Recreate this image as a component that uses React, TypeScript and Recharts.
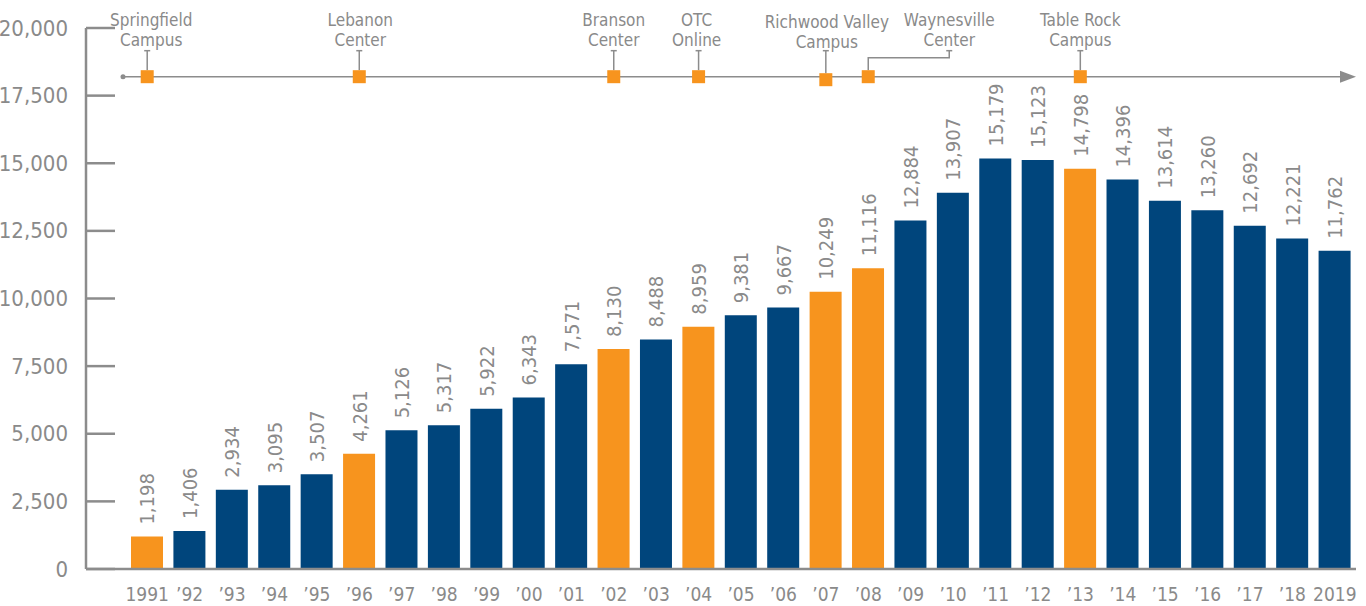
import React from 'react';
import { BarChart, Bar, XAxis, YAxis, Cell, LabelList, ReferenceLine, ReferenceDot } from 'recharts';

const years = ['1991', '’92', '’93', '’94', '’95', '’96', '’97', '’98', '’99', '’00', '’01', '’02', '’03', '’04', '’05', '’06', '’07', '’08', '’09', '’10', '’11', '’12', '’13', '’14', '’15', '’16', '’17', '’18', '2019'];
const enrollment = [1198, 1406, 2934, 3095, 3507, 4261, 5126, 5317, 5922, 6343, 7571, 8130, 8488, 8959, 9381, 9667, 10249, 11116, 12884, 13907, 15179, 15123, 14798, 14396, 13614, 13260, 12692, 12221, 11762];
const yTicks = [0, 2500, 5000, 7500, 10000, 12500, 15000, 17500, 20000];
const milestoneYears = ['1991', '’96', '’02', '’04', '’07', '’08', '’13'];
const milestoneNames = [
  ['Springfield', 'Campus'],
  ['Lebanon', 'Center'],
  ['Branson', 'Center'],
  ['OTC', 'Online'],
  ['Richwood Valley', 'Campus'],
  ['Waynesville', 'Center'],
  ['Table Rock', 'Campus'],
];
const TIMELINE_LEVEL = 18200;

const data = years.map((y, i) => ({ year: y, value: enrollment[i] }));

const NAVY = '#00457C';
const ORANGE = '#F7941E';
const GRAY = '#8A8A8A';
const AXIS = '#8C8C8C';
const FONT = "'Liberation Sans Narrow', 'DejaVu Sans Condensed', 'Open Sans', sans-serif";

const fmt = (v: number) => v.toLocaleString('en-US');

// per-milestone layout tweaks (label offsets / marker drop / elbow leader)
const layout: Record<string, { labelDx: number; markerDy: number; labelDy: number; elbowTo?: number }> = {
  'Springfield': { labelDx: 4, markerDy: 0, labelDy: 0 },
  'Lebanon': { labelDx: 1, markerDy: 0, labelDy: 0 },
  'Branson': { labelDx: 0, markerDy: 0, labelDy: 0 },
  'OTC': { labelDx: -2, markerDy: 0, labelDy: 0 },
  'Richwood Valley': { labelDx: 1, markerDy: 3, labelDy: 2 },
  'Waynesville': { labelDx: 81, markerDy: 0, labelDy: 0, elbowTo: 81 },
  'Table Rock': { labelDx: 0, markerDy: 0, labelDy: 0 },
};

const YTick = (props: any) => {
  const { x, y, payload } = props;
  return (
    <g>
      <line x1={x} x2={x + 29} y1={y} y2={y} stroke={AXIS} strokeWidth={2.5} />
      <text x={x - 18} y={y} dy={7.5} textAnchor="end" fill={GRAY} fontSize={22} fontFamily={FONT}>
        {fmt(payload.value)}
      </text>
    </g>
  );
};

const BarLabel = (props: any) => {
  const { x, y, width, value } = props;
  const cx = Number(x) + Number(width) / 2 + 7.5;
  const ty = Number(y) - 12;
  return (
    <text x={cx} y={ty} transform={`rotate(-90 ${cx} ${ty})`} textAnchor="start" fill={GRAY} fontSize={20} fontFamily={FONT}>
      {fmt(Number(value))}
    </text>
  );
};

const TimelineShape = (props: any) => {
  const { x1, x2, y1 } = props;
  const start = Number(x1) + 37;
  const end = Number(x2);
  const y = Number(y1);
  return (
    <g>
      <line x1={start} x2={end - 14} y1={y} y2={y} stroke={AXIS} strokeWidth={1.5} />
      <circle cx={start} cy={y} r={2.5} fill={AXIS} />
      <polygon points={`${end - 16},${y - 6} ${end},${y} ${end - 16},${y + 6}`} fill={AXIS} />
    </g>
  );
};

const makeMilestone = (names: string[]) => (props: any) => {
  const { cx, cy } = props;
  const L = layout[names[0]];
  const mx = Number(cx);
  const my = Number(cy) + L.markerDy;
  const top = Number(cy) - 26;
  const lx = mx + L.labelDx;
  const capX = L.elbowTo !== undefined ? mx + L.elbowTo : mx;
  return (
    <g>
      {L.elbowTo !== undefined ? (
        <polyline
          points={`${mx},${my - 6.5} ${mx},${top + 7} ${capX},${top + 7} ${capX},${top}`}
          fill="none"
          stroke={AXIS}
          strokeWidth={1.5}
        />
      ) : (
        <line x1={mx} x2={mx} y1={my - 6.5} y2={top} stroke={AXIS} strokeWidth={1.5} />
      )}
      <line x1={capX - 3} x2={capX + 3} y1={top} y2={top} stroke={AXIS} strokeWidth={1.5} />
      <rect x={mx - 6.5} y={my - 6.5} width={13} height={13} fill={ORANGE} />
      <text x={lx} y={Number(cy) - 51 + L.labelDy} textAnchor="middle" fill={GRAY} fontSize={17} fontFamily={FONT}>
        {names[0]}
      </text>
      <text x={lx} y={Number(cy) - 31 + L.labelDy} textAnchor="middle" fill={GRAY} fontSize={17} fontFamily={FONT}>
        {names[1]}
      </text>
    </g>
  );
};

export default function App() {
  return (
    <div style={{ position: 'absolute', left: 0, top: 0, width: 1366, height: 606, background: '#fff' }}>
      <BarChart width={1366} height={606} data={data} margin={{ top: 28, right: 10, bottom: 0, left: 0 }} barSize={32}>
        <YAxis
          width={86}
          domain={[0, 20000]}
          ticks={yTicks}
          interval={0}
          tick={<YTick />}
          tickLine={false}
          tickSize={0}
          tickMargin={0}
          axisLine={{ stroke: AXIS, strokeWidth: 2.5 }}
          allowDataOverflow
        />
        <XAxis
          dataKey="year"
          height={37}
          padding={{ left: 40, right: 0 }}
          interval={0}
          tickLine={false}
          tickSize={0}
          tickMargin={19}
          axisLine={{ stroke: AXIS, strokeWidth: 2.5 }}
          tick={{ fill: GRAY, fontSize: 19, fontFamily: FONT }}
        />
        <Bar dataKey="value" isAnimationActive={false}>
          {data.map((d) => (
            <Cell key={d.year} fill={milestoneYears.includes(d.year) ? ORANGE : NAVY} />
          ))}
          <LabelList dataKey="value" content={<BarLabel />} />
        </Bar>
        <ReferenceLine y={TIMELINE_LEVEL} shape={<TimelineShape />} ifOverflow="visible" />
        {milestoneYears.map((yr, i) => (
          <ReferenceDot key={yr} x={yr} y={TIMELINE_LEVEL} r={6} shape={makeMilestone(milestoneNames[i])} ifOverflow="visible" />
        ))}
      </BarChart>
    </div>
  );
}
